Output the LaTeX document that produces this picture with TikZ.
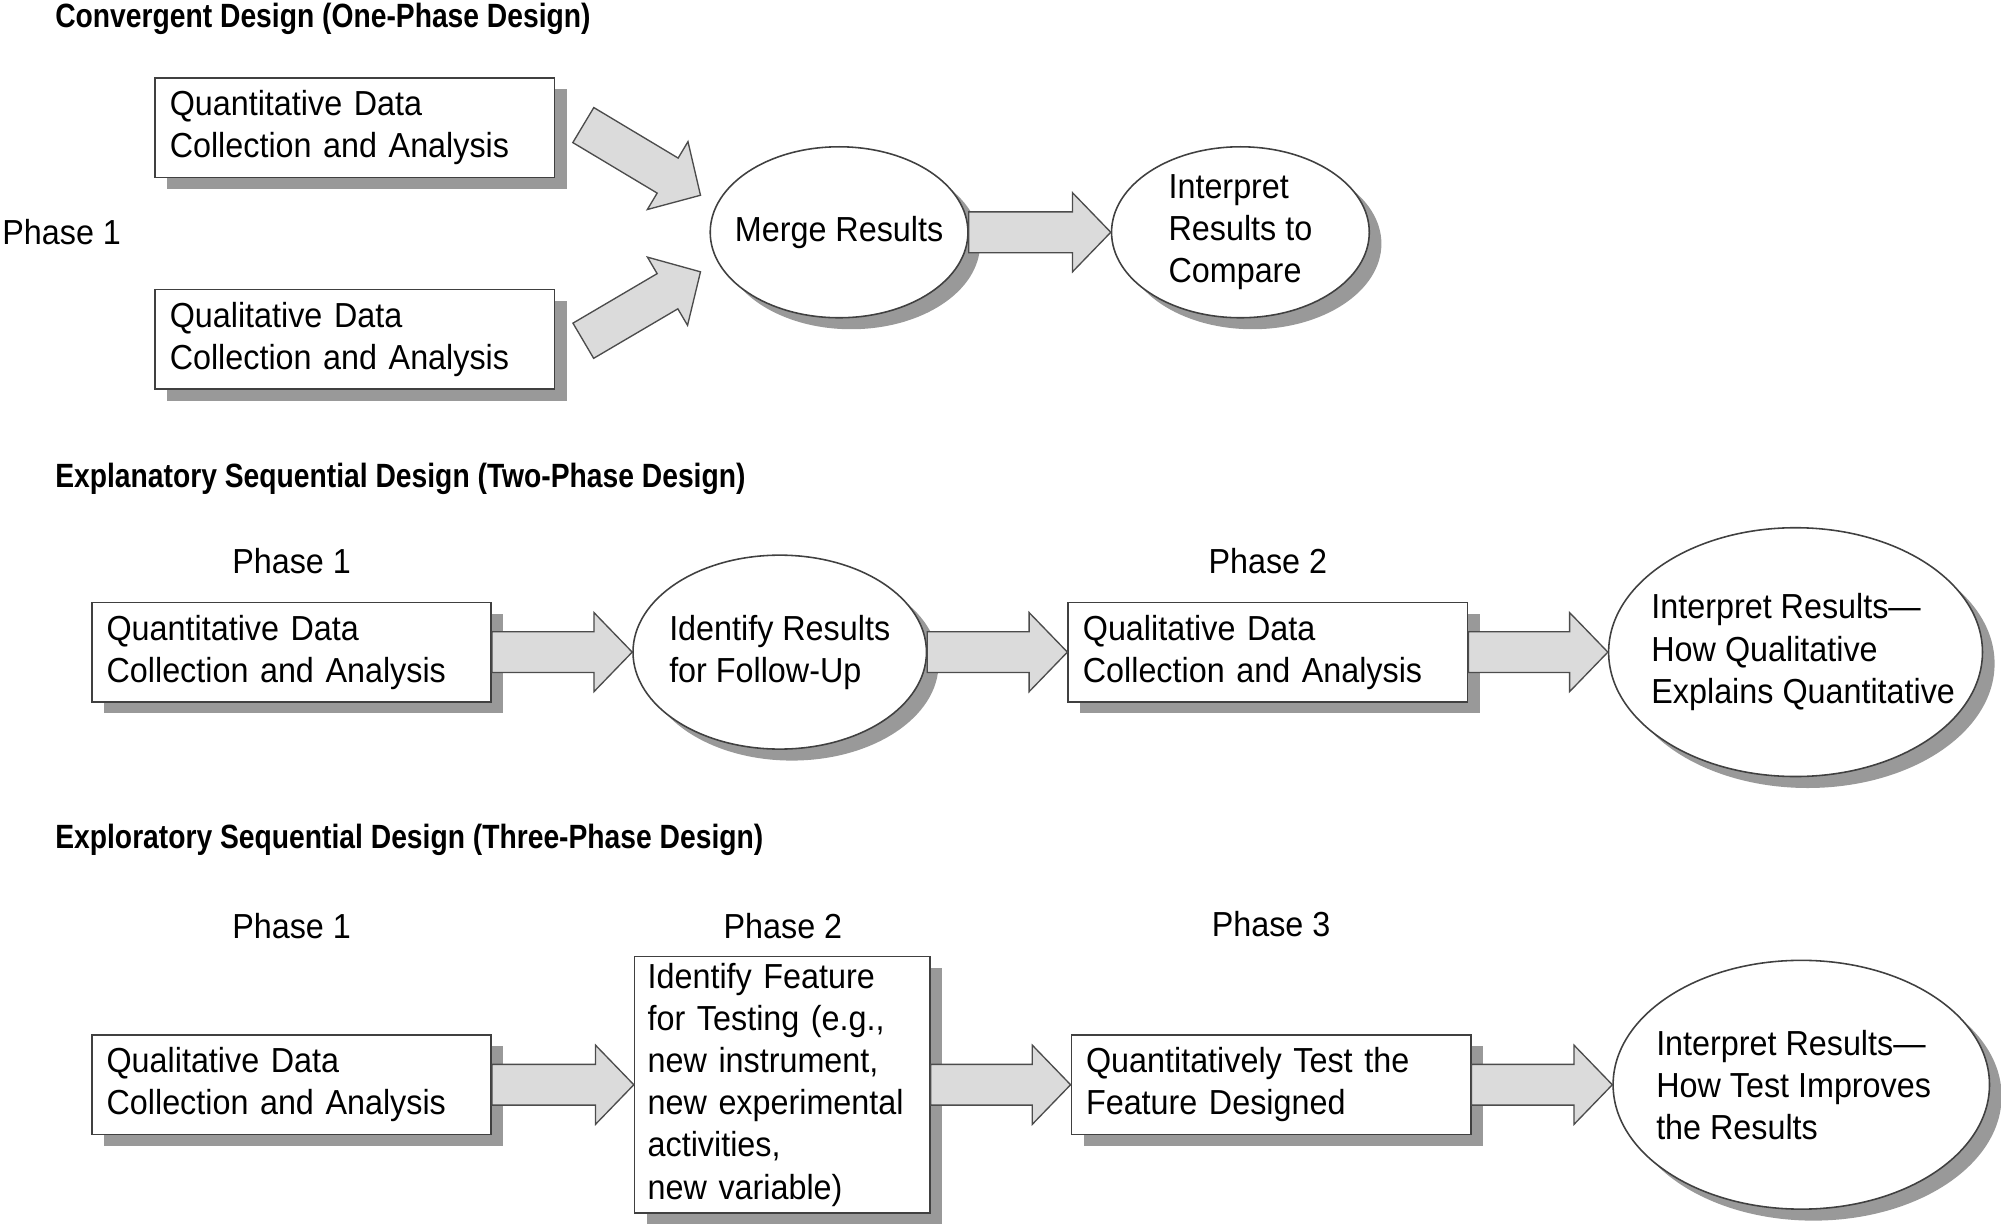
\documentclass[tikz,border=0pt]{standalone}
\usepackage{fontspec}
\setmainfont[FakeStretch=0.93]{Liberation Sans}
\newfontfamily\titlefont[FakeStretch=0.84]{Liberation Sans Bold}
\usetikzlibrary{shapes.geometric,shadows,calc}

\tikzset{
  shade/.style={drop shadow={shadow xshift=0.19cm, shadow yshift=-0.18cm, fill=black!40, opacity=1}},
  databox/.style={rectangle, draw=black!75, line width=0.7pt, fill=white, shade,
    minimum width=6.26cm, minimum height=1.56cm, text width=5.8cm, align=left, inner sep=0pt},
  result/.style={ellipse, draw=black!75, line width=0.7pt, fill=white, shade, inner sep=0pt},
  resulttext/.style={align=left, inner sep=0pt},
  phase/.style={inner sep=0pt},
  heading/.style={anchor=west, inner sep=0pt, font=\titlefont\fontsize{15}{18}\selectfont},
  barrow/.style={fill=black!14, draw=black!70, line width=0.6pt, line join=miter},
}

% block arrow from #1 to #2 (named nodes or coordinates)
\newcommand\blockarrow[2]{%
  \coordinate (bah) at ($(#2)!0.6cm!(#1)$);
  \draw[barrow] ($(#1)!0.32cm!90:(#2)$) -- ($(bah)!0.32cm!90:(#2)$)
    -- ($(bah)!0.62cm!90:(#2)$) -- (#2) -- ($(bah)!0.62cm!-90:(#2)$)
    -- ($(bah)!0.32cm!-90:(#2)$) -- ($(#1)!0.32cm!-90:(#2)$) -- cycle;
}

\begin{document}
\begin{tikzpicture}[x=0.02cm, y=-0.02cm, font=\fontsize{15.5}{18.8}\selectfont]
  \useasboundingbox (0,0) rectangle (1568,960.7);

  \def\rowa{182}    % convergent
  \def\rowb{511}    % explanatory
  \def\rowc{850}    % exploratory

  % convergent design
  \node[heading] (conv) at (43,14.5) {Convergent Design (One-Phase Design)};
  \node[databox] (quanta) at (278,100) {Quantitative Data\\Collection and Analysis};
  \node[databox] (quala) at (278,266) {Qualitative Data\\Collection and Analysis};
  \node[phase, anchor=west] (pha) at (1.5,\rowa) {Phase 1};
  \node[result, minimum width=4.04cm, minimum height=2.68cm,
    label={[resulttext]center:Merge Results}] (merge) at (657.5,\rowa) {};
  \node[result, minimum width=4.04cm, minimum height=2.68cm,
    label={[resulttext]center:{Interpret\\Results to\\Compare}}] (interpa) at (972,\rowa) {};

  \coordinate (tqa) at ($(quanta.east)+(22,-2)$);
  \coordinate (hqa) at ($(merge.west)+(-7,-29)$);
  \coordinate (tla) at ($(quala.east)+(22,1)$);
  \coordinate (hla) at ($(merge.west)+(-7,31)$);
  \blockarrow{tqa}{hqa}
  \blockarrow{tla}{hla}
  \blockarrow{merge.east}{interpa.west}

  % explanatory sequential design
  \node[heading] (expl) at (43,375) {Explanatory Sequential Design (Two-Phase Design)};
  \node[phase] (phb1) at (228.5,440) {Phase 1};
  \node[phase] (phb2) at (993.5,440) {Phase 2};
  \node[databox] (quantb) at (228.5,\rowb) {Quantitative Data\\Collection and Analysis};
  \node[result, minimum width=4.6cm, minimum height=3.04cm,
    label={[resulttext]center:{Identify Results\\for Follow-Up}}] (ident) at (611,\rowb) {};
  \node[databox] (qualb) at (993.5,\rowb) {Qualitative Data\\Collection and Analysis};
  \node[result, minimum width=5.86cm, minimum height=3.9cm,
    label={[resulttext, xshift=0.12cm]center:{Interpret Results—\\How Qualitative\\Explains Quantitative}}] (interpb) at (1407,\rowb) {};

  \blockarrow{quantb.east}{ident.west}
  \blockarrow{ident.east}{qualb.west}
  \blockarrow{qualb.east}{interpb.west}

  % exploratory sequential design
  \node[heading] (explo) at (43,658) {Exploratory Sequential Design (Three-Phase Design)};
  \node[phase] (phc1) at (228.5,725.5) {Phase 1};
  \node[phase] (phc2) at (613.5,725.5) {Phase 2};
  \node[phase] (phc3) at (996,724) {Phase 3};
  \node[databox] (qualc) at (228.5,\rowc) {Qualitative Data\\Collection and Analysis};
  \node[databox, minimum width=4.63cm, minimum height=4.02cm, text width=4.22cm] (feature) at (613,\rowc)
    {Identify Feature\\for Testing (e.g.,\\new instrument,\\new experimental\\activities,\\new variable)};
  \node[databox] (test) at (996,\rowc) {Quantitatively Test the\\Feature Designed};
  \node[result, minimum width=5.9cm, minimum height=3.9cm,
    label={[resulttext, xshift=-0.12cm]center:{Interpret Results—\\How Test Improves\\the Results}}] (interpc) at (1411.5,\rowc) {};

  \blockarrow{qualc.east}{feature.west}
  \blockarrow{feature.east}{test.west}
  \blockarrow{test.east}{interpc.west}
\end{tikzpicture}
\end{document}
